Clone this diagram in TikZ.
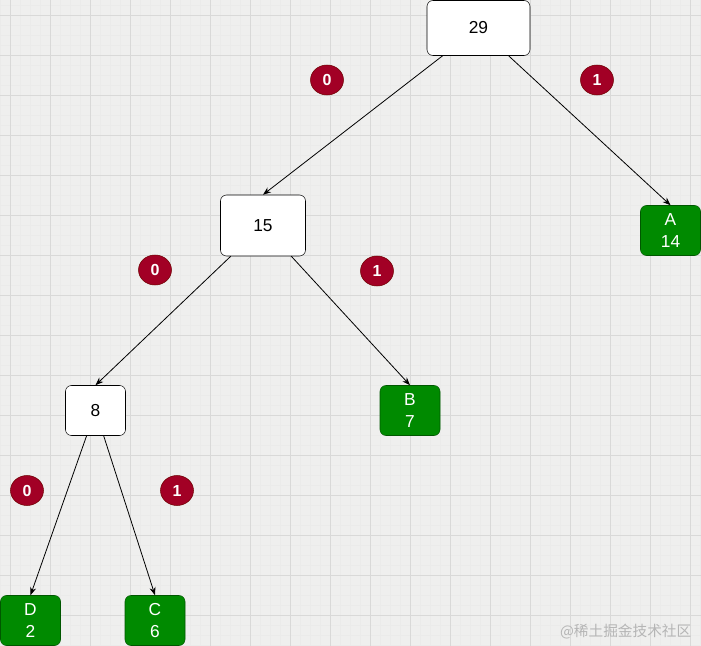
\documentclass[tikz,border=0pt]{standalone}
\usepackage{fontspec}
\setmainfont{Liberation Sans}
\newfontfamily\cjkfont{Noto Sans CJK SC}
\usepackage{tikz}
\usetikzlibrary{arrows.meta, shapes.geometric}
\definecolor{BitRed}{HTML}{A20025}
\definecolor{BitBorder}{HTML}{6F0000}
\definecolor{LeafGreen}{HTML}{008A00}
\definecolor{LeafBorder}{HTML}{005700}
\definecolor{GridBg}{HTML}{EFEFEE}
\definecolor{GridMinor}{HTML}{EBEBEA}
\definecolor{GridMajor}{HTML}{D9D9D8}
\definecolor{MarkGray}{HTML}{B5B5B5}

\begin{document}
\begin{tikzpicture}[x=0.75pt, y=-0.75pt, every node/.style={font=\fontsize{13}{15}\selectfont}]
  \tikzstyle{sum}=[rectangle, draw=black, rounded corners=4.5pt, fill=white, minimum width=45pt, minimum height=37.5pt, inner sep=0pt]
  \tikzstyle{leaf}=[rectangle, draw=LeafBorder, fill=LeafGreen, rounded corners=4.5pt, text=white, minimum width=45pt, minimum height=37.5pt, inner sep=0pt, align=center, font=\fontsize{13}{17}\selectfont]
  \tikzstyle{bit}=[ellipse, draw=BitBorder, fill=BitRed, text=white, minimum width=24.75pt, minimum height=22.5pt, inner sep=0pt, font=\bfseries\fontsize{12}{14}\selectfont]
  \tikzstyle{arrow}=[-{Stealth[length=6pt, width=4.5pt]}, draw=black, line width=0.6pt]

  % grid paper
  \useasboundingbox (0,0) rectangle (701,646);
  \fill[GridBg] (0,0) rectangle (701,646);
  \foreach \x in {0,10,...,700} \draw[GridMinor, line width=0.4pt] (\x,0) -- (\x,646);
  \foreach \y in {5,15,...,645} \draw[GridMinor, line width=0.4pt] (0,\y) -- (701,\y);
  \foreach \x in {10,50,...,690} \draw[GridMajor, line width=0.6pt] (\x,0) -- (\x,646);
  \foreach \y in {15,55,...,615} \draw[GridMajor, line width=0.6pt] (0,\y) -- (701,\y);

  % sums
  \node[sum, minimum width=77.25pt, minimum height=41.25pt] (n29) at (478.5,28) {29};
  \node[sum, minimum width=63.75pt, minimum height=45.75pt] (n15) at (263,225.5) {15};
  \node[sum] (n8) at (95.5,410.5) {8};

  % leaves
  \node[leaf] (leafA) at (670.5,230.5) {A\\14};
  \node[leaf] (leafB) at (410,410.5) {B\\7};
  \node[leaf] (leafD) at (30.5,620.5) {D\\2};
  \node[leaf] (leafC) at (155,620.5) {C\\6};

  % bits
  \node[bit] (bit0a) at (327,80) {0};
  \node[bit] (bit1a) at (597,80) {1};
  \node[bit] (bit0b) at (155,270) {0};
  \node[bit] (bit1b) at (377,271) {1};
  \node[bit] (bit0c) at (27,490.5) {0};
  \node[bit] (bit1c) at (177,490.5) {1};

  \draw[arrow] (n29) -- (n15.north);
  \draw[arrow] (n29) -- (leafA.north);
  \draw[arrow] (n15) -- (n8.north);
  \draw[arrow] (n15) -- (leafB.north);
  \draw[arrow] (n8) -- (leafD.north);
  \draw[arrow] (n8) -- (leafC.north);

  \node[text=MarkGray, font=\cjkfont\fontsize{11}{13}\selectfont, anchor=east] (mark) at (696,632) {@稀土掘金技术社区};
\end{tikzpicture}
\end{document}
